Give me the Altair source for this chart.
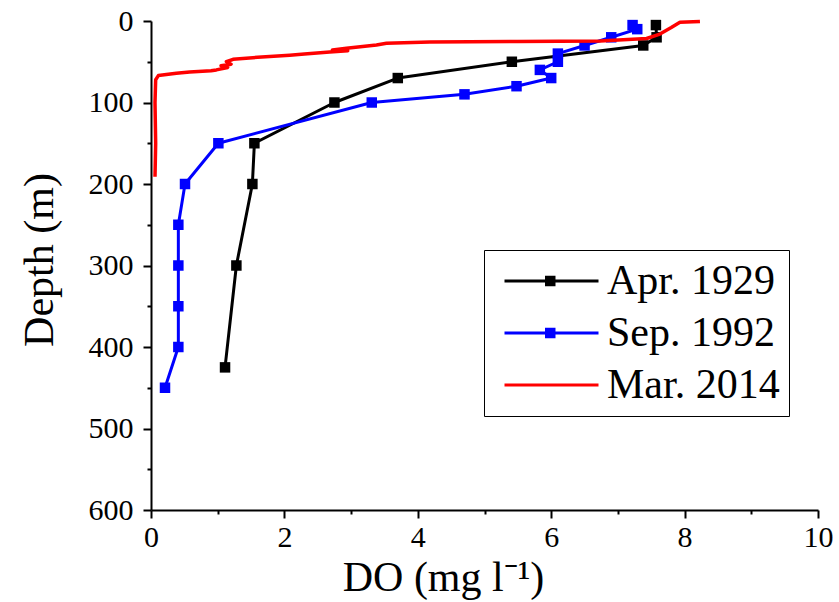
import altair as alt
import pandas as pd

# ---------------- data ----------------
series_names = ["Apr. 1929", "Sep. 1992", "Mar. 2014"]
series_colors = ["#000000", "#0000ff", "#ff0000"]
marker_series = ["Apr. 1929", "Sep. 1992"]
marker_colors = ["#000000", "#0000ff"]

apr_do = [7.57, 7.58, 7.38, 5.41, 3.70, 2.75, 1.55, 1.52, 1.28, 1.11]
apr_depth = [5, 20, 30, 50, 70, 100, 150, 200, 300, 425]

sep_do = [7.22, 7.29, 6.90, 6.50, 6.10, 6.10, 5.83, 6.00, 5.48, 4.70,
          3.31, 1.01, 0.51, 0.41, 0.41, 0.41, 0.41, 0.21]
sep_depth = [5, 10, 20, 30, 40, 50, 60, 70, 80, 90,
             100, 150, 200, 250, 300, 350, 400, 450]

mar_do = [8.23, 7.93, 7.80, 7.63, 7.43, 6.73, 5.50, 4.18, 3.53, 3.38,
          2.93, 2.72, 2.95, 2.68, 2.30, 2.08, 1.60, 1.23, 1.13, 1.20,
          1.05, 1.15, 0.98, 0.90, 0.58, 0.38, 0.11, 0.07, 0.06, 0.07, 0.06]
mar_depth = [0.5, 1.5, 8, 16, 21.5, 24.5, 25.2, 25.8, 27.4, 29.4,
             33.5, 35.5, 36.5, 38, 40.5, 42, 44.5, 47, 50, 53,
             55, 57, 60, 61, 62.5, 64, 67, 72, 100, 150, 191]

x_ticks = list(range(0, 11))
y_ticks = list(range(0, 601, 50))

rows = []
for name, dos, deps in [(series_names[0], apr_do, apr_depth),
                        (series_names[1], sep_do, sep_depth),
                        (series_names[2], mar_do, mar_depth)]:
    for i, (d, z) in enumerate(zip(dos, deps)):
        rows.append({"series": name, "marker": name, "do": d, "depth": z, "idx": i})
df = pd.DataFrame(rows)

FONT = "Liberation Serif"

x_axis = alt.Axis(
    values=x_ticks,
    labelExpr="datum.value % 2 === 0 ? datum.label : ''",
    tickSize={"condition": {"test": "datum.value % 2 === 0", "value": 8}, "value": 4},
    tickWidth=2, tickColor="black",
    domainColor="black", domainWidth=2, grid=False,
    labelFont=FONT, labelFontSize=30, labelColor="black", labelPadding=4,
    labelFlush=False, labelOverlap=False,
    title="DO (mg l⁻¹)", titleFont=FONT, titleFontSize=42,
    titleFontWeight="normal", titleColor="black", titleX=292, titleY=47,
)
y_axis = alt.Axis(
    values=y_ticks,
    labelExpr="datum.value % 100 === 0 ? datum.label : ''",
    tickSize={"condition": {"test": "datum.value % 100 === 0", "value": 8}, "value": 4},
    tickWidth=2, tickColor="black",
    domainColor="black", domainWidth=2, grid=False,
    labelFont=FONT, labelFontSize=30, labelColor="black", labelPadding=10,
    labelFlush=False, labelOverlap=False,
    title="Depth (m)", titleFont=FONT, titleFontSize=42,
    titleFontWeight="normal", titleColor="black", titleX=-90, titleY=238.5,
)

LEG_X, LEG_Y, LEG_PAD, LEG_CLIP, LEG_ROWPAD = 333, 229, 9, 44, 8

line_legend = alt.Legend(
    orient="none", legendX=LEG_X, legendY=LEG_Y,
    labelFont=FONT, labelFontSize=42, labelColor="black", labelLimit=400,
    labelOffset=7, symbolOffset=10, symbolSize=8836, symbolStrokeWidth=3,
    symbolType="stroke", clipHeight=LEG_CLIP, rowPadding=LEG_ROWPAD, padding=LEG_PAD,
    strokeColor="black", symbolOpacity=1,
)
# square markers of the legend, laid on the middle of the line symbols (no text)
marker_legend = alt.Legend(
    orient="none", legendX=LEG_X + 51.75, legendY=LEG_Y,
    labelExpr="''", labelFontSize=1, labelOpacity=0,
    symbolOffset=0, symbolSize=110, symbolStrokeWidth=0,
    symbolType="square", clipHeight=LEG_CLIP, rowPadding=LEG_ROWPAD, padding=LEG_PAD,
    symbolOpacity=1,
)

x_enc = alt.X("do:Q", scale=alt.Scale(domain=[0, 10], nice=False, zero=False), axis=x_axis)
y_enc = alt.Y("depth:Q", scale=alt.Scale(domain=[0, 600], reverse=True, nice=False, zero=False), axis=y_axis)
c_enc = alt.Color("series:N", scale=alt.Scale(domain=series_names, range=series_colors),
                  title=None, legend=line_legend)
f_enc = alt.Fill("marker:N", scale=alt.Scale(domain=marker_series, range=marker_colors),
                 title=None, legend=marker_legend)

base = alt.Chart(df)


def line_layer(name, width):
    return base.transform_filter(alt.datum.series == name).mark_line(
        strokeWidth=width, strokeJoin="round"
    ).encode(x=x_enc, y=y_enc, color=c_enc, order=alt.Order("idx:Q"))


def point_layer(name):
    return base.transform_filter(alt.datum.series == name).mark_point(
        shape="square", filled=True, size=110, opacity=1
    ).encode(x=x_enc, y=y_enc, fill=f_enc)


chart = alt.layer(
    line_layer(series_names[0], 3),
    point_layer(series_names[0]),
    line_layer(series_names[1], 3),
    point_layer(series_names[1]),
    line_layer(series_names[2], 3.5),
).properties(
    width=667, height=489,
    autosize=alt.AutoSizeParams(type="none"),
    padding={"left": 151, "top": 21, "right": 21, "bottom": 92},
    background="white",
).configure_view(stroke=None)

chart.save("out.html", embed_options={"renderer": "svg", "actions": False})
